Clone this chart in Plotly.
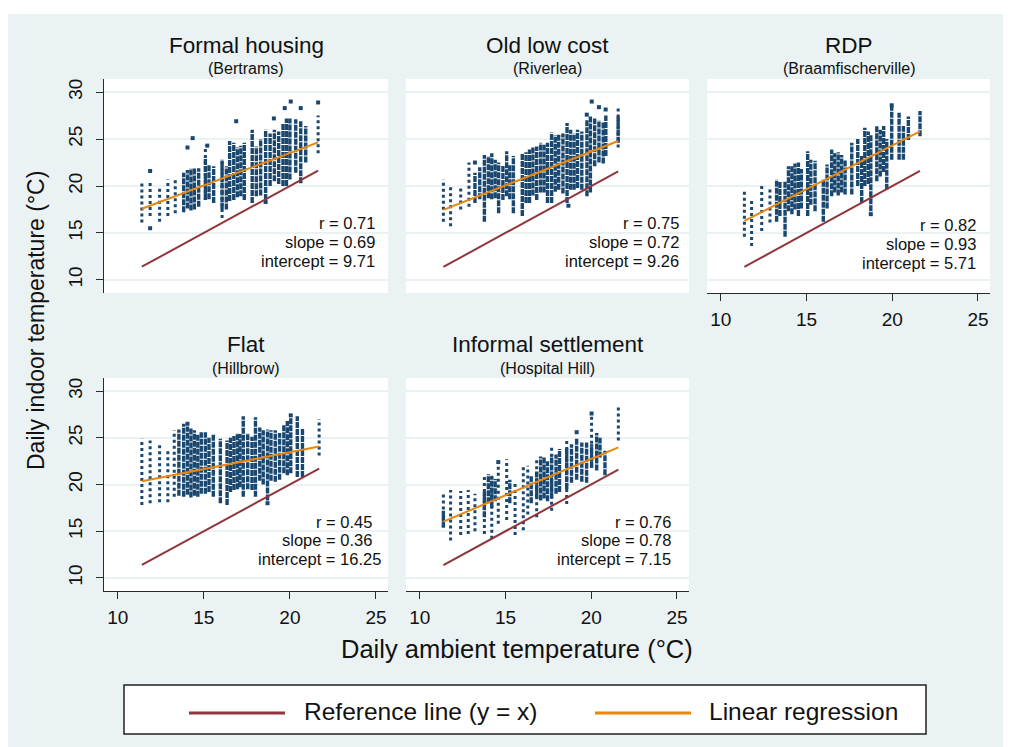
import plotly.graph_objects as go

# visible figure area (page has an 8px body margin at left/top)
W, H = 1003, 739
OFF = 8

titles = ["Formal housing", "Old low cost", "RDP", "Flat", "Informal settlement"]
subtitles = ["(Bertrams)", "(Riverlea)", "(Braamfischerville)", "(Hillbrow)", "(Hospital Hill)"]
r_values = [0.71, 0.75, 0.82, 0.45, 0.76]
slopes = [0.69, 0.72, 0.93, 0.36, 0.78]
intercepts = [9.71, 9.26, 5.71, 16.25, 7.15]

x_ticks = [10, 15, 20, 25]
y_ticks = [10, 15, 20, 25, 30]

# ---------------- Panel 1: Formal housing (Bertrams) ----------------
p1_core_x = [13.83, 14.05, 14.25, 14.45, 14.70, 15.09, 15.30, 15.57, 16.06, 16.31, 16.50, 16.74, 16.95, 17.15,
             17.35, 17.81, 18.05, 18.30, 18.59, 18.85, 19.10, 19.35, 19.60, 19.80, 20.00, 20.34, 20.63, 20.92]
p1_core_lo = [17.2, 17.6, 17.4, 17.5, 17.8, 18.5, 18.6, 18.2, 17.5, 17.5, 18.4, 18.5, 18.8, 18.9,
              18.5, 18.2, 18.9, 19.0, 18.5, 20.0, 20.5, 20.2, 20.0, 20.0, 20.7, 21.4, 20.3, 22.5]
p1_core_hi = [21.4, 21.7, 21.9, 21.9, 21.9, 23.0, 22.3, 22.1, 22.8, 22.1, 24.8, 24.6, 24.1, 24.3,
              24.6, 26.0, 24.2, 25.0, 26.0, 25.6, 26.0, 25.8, 26.6, 27.2, 27.2, 27.1, 26.9, 26.4]
p1_sparse_x = [11.40, 11.88, 12.43, 12.91, 13.34, 15.09, 16.06, 21.64]
p1_sparse_lo = [16.1, 16.8, 16.2, 16.8, 17.1, 18.5, 16.6, 23.5]
p1_sparse_hi = [20.3, 20.5, 20.0, 20.7, 20.9, 24.3, 22.8, 27.5]
p1_pts_x = [11.88, 11.88, 14.05, 14.35, 15.20, 16.88, 19.07, 19.70, 20.05, 20.63, 21.64, 18.59]
p1_pts_y = [21.6, 15.5, 24.1, 25.1, 24.3, 26.9, 27.2, 28.3, 29.0, 28.3, 28.9, 18.3]

# ---------------- Panel 2: Old low cost (Riverlea) ----------------
p2_core_x = [13.22, 13.50, 13.77, 14.00, 14.20, 14.40, 14.60, 14.85, 15.07, 15.25, 15.46, 15.98, 16.20, 16.40,
             16.60, 16.82, 17.05, 17.25, 17.45, 17.69, 17.90, 18.10, 18.35, 18.59, 18.80, 19.00, 19.20, 19.45,
             19.75, 19.95, 20.20, 20.45, 20.70, 20.85, 21.57]
p2_core_lo = [18.2, 18.6, 16.2, 18.7, 18.6, 18.7, 17.1, 18.5, 18.9, 18.6, 17.1, 16.8, 18.2, 18.2,
              19.0, 18.5, 19.3, 19.3, 18.2, 18.2, 19.4, 19.6, 19.2, 18.2, 19.6, 19.6, 19.8, 19.6,
              18.9, 19.3, 22.1, 22.5, 22.4, 23.2, 24.6]
p2_core_hi = [21.4, 22.0, 23.3, 23.2, 23.5, 22.8, 22.5, 22.2, 23.7, 22.2, 23.2, 23.5, 23.6, 23.9,
              24.2, 24.2, 24.6, 24.4, 24.6, 25.7, 25.4, 25.5, 25.6, 26.7, 26.0, 25.6, 26.0, 25.8,
              27.0, 27.5, 27.2, 27.0, 26.8, 27.5, 27.4]
p2_sparse_x = [11.38, 11.80, 12.39, 12.87, 21.57]
p2_sparse_lo = [16.2, 15.7, 17.5, 17.8, 24.1]
p2_sparse_hi = [20.7, 20.0, 20.0, 22.5, 28.3]
p2_pts_x = [20.03, 20.45, 20.84, 19.74, 18.67, 13.22]
p2_pts_y = [29.0, 28.4, 28.15, 27.6, 17.9, 22.5]

# ---------------- Panel 3: RDP (Braamfischerville) ----------------
p3_core_x = [13.26, 13.45, 13.75, 13.95, 14.15, 14.33, 14.53, 14.70, 15.07, 15.25, 15.50, 15.98, 16.20, 16.47,
             16.65, 16.85, 17.05, 17.25, 17.64, 17.99, 18.22, 18.40, 18.60, 18.75, 19.10, 19.30, 19.50, 19.68,
             19.97, 20.40, 20.65, 20.94, 21.62]
p3_core_lo = [16.2, 16.8, 14.6, 17.3, 17.0, 17.5, 16.8, 17.6, 16.8, 18.0, 17.3, 16.2, 17.6, 18.9,
              19.3, 19.0, 19.3, 19.1, 19.1, 20.0, 18.2, 20.0, 20.2, 17.3, 20.5, 21.0, 21.5, 19.6,
              22.8, 22.8, 22.8, 24.9, 25.3]
p3_core_hi = [20.7, 20.5, 20.5, 22.1, 22.1, 22.4, 22.5, 21.8, 23.7, 22.8, 22.7, 20.7, 22.3, 23.9,
              23.5, 23.6, 23.3, 22.8, 24.6, 25.0, 23.2, 26.2, 25.8, 25.5, 26.4, 26.0, 26.4, 25.0,
              28.5, 27.8, 26.4, 27.4, 28.0]
p3_sparse_x = [11.38, 11.80, 12.39, 12.87]
p3_sparse_lo = [14.6, 13.6, 15.2, 16.1]
p3_sparse_hi = [19.4, 18.6, 20.3, 19.8]
p3_pts_x = [19.97, 18.75]
p3_pts_y = [28.6, 17.0]

# ---------------- Panel 4: Flat (Hillbrow) ----------------
p4_core_x = [13.55, 13.83, 14.05, 14.25, 14.45, 14.65, 14.85, 15.09, 15.30, 15.55, 15.96, 16.35, 16.55, 16.75,
             16.95, 17.10, 17.29, 17.55, 17.80, 18.00, 18.25, 18.45, 18.70, 18.90, 19.15, 19.40, 19.65, 19.85,
             20.05, 20.43, 20.73]
p4_core_lo = [18.8, 18.7, 18.9, 18.6, 18.8, 18.7, 19.0, 19.0, 19.2, 18.7, 18.0, 17.8, 19.2, 19.4,
              19.5, 19.7, 18.7, 19.5, 19.4, 18.7, 20.4, 20.0, 18.3, 20.4, 20.3, 20.5, 21.2, 21.0,
              21.2, 20.8, 20.8]
p4_core_hi = [25.9, 26.5, 26.2, 26.0, 25.8, 25.4, 25.6, 25.6, 25.0, 25.4, 24.9, 24.7, 25.0, 25.2,
              25.5, 25.4, 27.3, 25.5, 25.1, 27.2, 26.1, 25.8, 25.9, 25.8, 25.8, 25.5, 26.4, 26.8,
              27.2, 27.3, 26.0]
p4_sparse_x = [11.40, 11.88, 12.43, 12.91, 13.28, 21.70]
p4_sparse_lo = [17.8, 18.0, 18.1, 18.1, 18.7, 23.1]
p4_sparse_hi = [24.9, 24.7, 24.3, 23.8, 25.8, 27.0]
p4_pts_x = [14.05, 20.05, 18.70]
p4_pts_y = [26.5, 27.4, 18.0]

# ---------------- Panel 5: Informal settlement (Hospital Hill) ----------------
p5_core_x = [11.38, 13.77, 14.00, 14.20, 14.40, 15.25, 16.50, 16.82, 17.05, 17.25, 17.45, 17.69, 17.95, 18.15,
             18.57, 18.85, 19.15, 19.45, 19.73, 20.02, 20.32, 20.51, 20.80]
p5_core_lo = [15.4, 16.5, 18.0, 17.5, 18.2, 18.0, 18.0, 18.5, 18.3, 18.5, 18.2, 18.5, 19.0, 19.2,
              19.5, 20.2, 20.5, 20.3, 20.2, 21.8, 21.5, 22.9, 21.0]
p5_core_hi = [17.2, 19.2, 21.1, 20.8, 20.6, 20.5, 21.0, 21.5, 23.0, 23.0, 22.5, 23.2, 23.2, 23.8,
              24.0, 24.3, 25.0, 24.5, 24.5, 24.3, 25.5, 25.0, 23.6]
p5_sparse_x = [11.38, 11.80, 12.39, 12.83, 13.22, 13.77, 14.20, 14.58, 15.07, 15.56, 16.04, 16.30, 16.82,
               17.69, 18.57, 20.02, 21.58]
p5_sparse_lo = [15.4, 14.0, 14.6, 14.7, 15.0, 14.7, 14.2, 15.8, 16.2, 14.6, 15.1, 16.8, 16.5,
                17.2, 17.9, 21.8, 24.7]
p5_sparse_hi = [19.1, 19.4, 19.3, 19.4, 19.0, 20.8, 21.1, 22.2, 22.7, 20.1, 21.9, 22.0, 22.6,
                24.2, 24.9, 27.5, 28.3]
p5_pts_x = [19.15, 20.02, 14.58]
p5_pts_y = [25.6, 27.6, 22.4]

panels = [
    (p1_core_x, p1_core_lo, p1_core_hi, p1_sparse_x, p1_sparse_lo, p1_sparse_hi, p1_pts_x, p1_pts_y),
    (p2_core_x, p2_core_lo, p2_core_hi, p2_sparse_x, p2_sparse_lo, p2_sparse_hi, p2_pts_x, p2_pts_y),
    (p3_core_x, p3_core_lo, p3_core_hi, p3_sparse_x, p3_sparse_lo, p3_sparse_hi, p3_pts_x, p3_pts_y),
    (p4_core_x, p4_core_lo, p4_core_hi, p4_sparse_x, p4_sparse_lo, p4_sparse_hi, p4_pts_x, p4_pts_y),
    (p5_core_x, p5_core_lo, p5_core_hi, p5_sparse_x, p5_sparse_lo, p5_sparse_hi, p5_pts_x, p5_pts_y),
]

# ---------------- styling / layout ----------------
BG = "#eaf2f3"
NAVY = "#1a476f"
MAROON = "#90353b"
ORANGE = "#e8870e"
AXC = "#2a2a2a"
FONT = "Liberation Sans, Arial, sans-serif"


def fx(px):  # page pixel -> paper x
    return (px - OFF) / W


def fy(py):  # page pixel -> paper y
    return 1 - (py - OFF) / H


cols_px = [(104, 388), (406, 689), (707, 990)]
rows_px = [(79, 293), (378, 591)]
grid_pos = [(0, 0), (0, 1), (0, 2), (1, 0), (1, 1)]
show_x = [False, False, True, True, True]
show_y = [True, False, False, True, False]
stat_right_px = [[377, 377, 377], [681, 681, 681], [978, 978, 978], [374, 374, 383], [673, 673, 673]]
stat_y_px = [[223, 242, 261], [223, 242, 261], [225, 244, 263], [522, 540, 559], [522, 540, 559]]


def segs(xs, lo, hi):
    X, Y = [], []
    for x, a, b in zip(xs, lo, hi):
        X += [x, x, None]
        Y += [a, b, None]
    return X, Y


fig = go.Figure()
layout_axes = {}
annotations = []

for i, (cx, clo, chi, sx, slo, shi, px, py) in enumerate(panels):
    k = i + 1
    xs = "x" if k == 1 else f"x{k}"
    ys = "y" if k == 1 else f"y{k}"

    X, Y = segs(sx, slo, shi)
    fig.add_trace(go.Scatter(x=X, y=Y, mode="lines", xaxis=xs, yaxis=ys, showlegend=False,
                             line=dict(color=NAVY, width=3, dash="3px,3px"), hoverinfo="skip"))
    X, Y = segs(cx, clo, chi)
    fig.add_trace(go.Scatter(x=X, y=Y, mode="lines", xaxis=xs, yaxis=ys, showlegend=False,
                             line=dict(color=NAVY, width=3.4, dash="6px,1px"), hoverinfo="skip"))
    fig.add_trace(go.Scatter(x=px, y=py, mode="markers", xaxis=xs, yaxis=ys, showlegend=False,
                             marker=dict(color=NAVY, size=4, symbol="square", line=dict(width=0))))

    all_x = cx + sx + px
    xmin, xmax = min(all_x), max(all_x)
    fig.add_trace(go.Scatter(x=[xmin, xmax], y=[xmin, xmax], mode="lines", xaxis=xs, yaxis=ys,
                             name="Reference line (y = x)", showlegend=False,
                             line=dict(color=MAROON, width=2)))
    fig.add_trace(go.Scatter(x=[xmin, xmax], y=[intercepts[i] + slopes[i] * xmin, intercepts[i] + slopes[i] * xmax],
                             mode="lines", xaxis=xs, yaxis=ys, name="Linear regression", showlegend=False,
                             line=dict(color=ORANGE, width=2)))

    r, c = grid_pos[i]
    l, rr = cols_px[c]
    t, b = rows_px[r]
    xdom = [fx(l), fx(rr)]
    ydom = [fy(b), fy(t)]

    xa = dict(domain=xdom, range=[9.2, 25.7], anchor=ys, tickvals=x_ticks, showgrid=False, zeroline=False,
              fixedrange=True)
    if show_x[i]:
        xa.update(showline=True, linecolor=AXC, linewidth=1, ticks="outside", ticklen=7, tickwidth=1,
                  tickcolor=AXC, showticklabels=True, tickfont=dict(size=19, color="#111", family=FONT),
                  ticklabelstandoff=2)
    else:
        xa.update(showline=False, ticks="", showticklabels=False)
    ya = dict(domain=ydom, range=[8.6, 31.4], anchor=xs, tickvals=y_ticks, showgrid=True, gridcolor=BG,
              gridwidth=1.6, zeroline=False, fixedrange=True)
    if show_y[i]:
        ya.update(showline=True, linecolor=AXC, linewidth=1, ticks="outside", ticklen=7, tickwidth=1,
                  tickcolor=AXC, showticklabels=True, tickangle=-90,
                  tickfont=dict(size=19, color="#111", family=FONT), ticklabelstandoff=6)
    else:
        ya.update(showline=False, ticks="", showticklabels=False)
    layout_axes["xaxis" if k == 1 else f"xaxis{k}"] = xa
    layout_axes["yaxis" if k == 1 else f"yaxis{k}"] = ya

    cxp = fx((l + rr) / 2)
    annotations.append(dict(text=titles[i], x=cxp, y=fy(t - 34), xref="paper", yref="paper",
                            showarrow=False, xanchor="center", yanchor="middle",
                            font=dict(size=22.5, color="#111", family=FONT)))
    annotations.append(dict(text=subtitles[i], x=cxp, y=fy(t - 10), xref="paper", yref="paper",
                            showarrow=False, xanchor="center", yanchor="middle",
                            font=dict(size=16, color="#111", family=FONT)))
    stats = [f"r = {r_values[i]:.2f}", f"slope = {slopes[i]:.2f}", f"intercept = {intercepts[i]:.2f}"]
    for j, s in enumerate(stats):
        annotations.append(dict(text=s, x=fx(stat_right_px[i][j]), y=fy(stat_y_px[i][j]),
                                xref="paper", yref="paper", showarrow=False, xanchor="right",
                                yanchor="middle", font=dict(size=16.5, color="#111", family=FONT)))

# axis titles
annotations.append(dict(text="Daily indoor temperature (°C)", x=fx(36), y=fy(321), xref="paper", yref="paper",
                        showarrow=False, textangle=-90, xanchor="center", yanchor="middle",
                        font=dict(size=23, color="#111", family=FONT)))
annotations.append(dict(text="Daily ambient temperature (°C)", x=fx(517), y=fy(649), xref="paper",
                        yref="paper", showarrow=False, xanchor="center", yanchor="middle",
                        font=dict(size=25.5, color="#111", family=FONT)))

# legend (drawn manually to match the boxed Stata legend)
legend_labels = ["Reference line (y = x)", "Linear regression"]
legend_colors = [MAROON, ORANGE]
legend_line_px = [(189, 285), (595, 691)]
legend_text_px = [302, 707]
shapes = [
    dict(type="rect", xref="paper", yref="paper", x0=0, x1=1, y0=fy(14), y1=1, fillcolor="white",
         line=dict(width=0), layer="below"),
    dict(type="rect", xref="paper", yref="paper", x0=fx(124), x1=fx(926), y0=fy(734), y1=fy(685),
         fillcolor="white", line=dict(color="#222", width=1.5)),
]
for lab, col, (a, bb), tx in zip(legend_labels, legend_colors, legend_line_px, legend_text_px):
    shapes.append(dict(type="line", xref="paper", yref="paper", x0=fx(a), x1=fx(bb), y0=fy(713),
                       y1=fy(713), line=dict(color=col, width=3)))
    annotations.append(dict(text=lab, x=fx(tx), y=fy(711), xref="paper", yref="paper", showarrow=False,
                            xanchor="left", yanchor="middle", font=dict(size=24.5, color="#111", family=FONT)))

fig.update_layout(
    width=W, height=H, margin=dict(l=0, r=0, t=0, b=0),
    paper_bgcolor=BG, plot_bgcolor="white",
    font=dict(family=FONT, color="#111"),
    showlegend=False,
    annotations=annotations, shapes=shapes,
    **layout_axes,
)

fig.write_html("out.html")
